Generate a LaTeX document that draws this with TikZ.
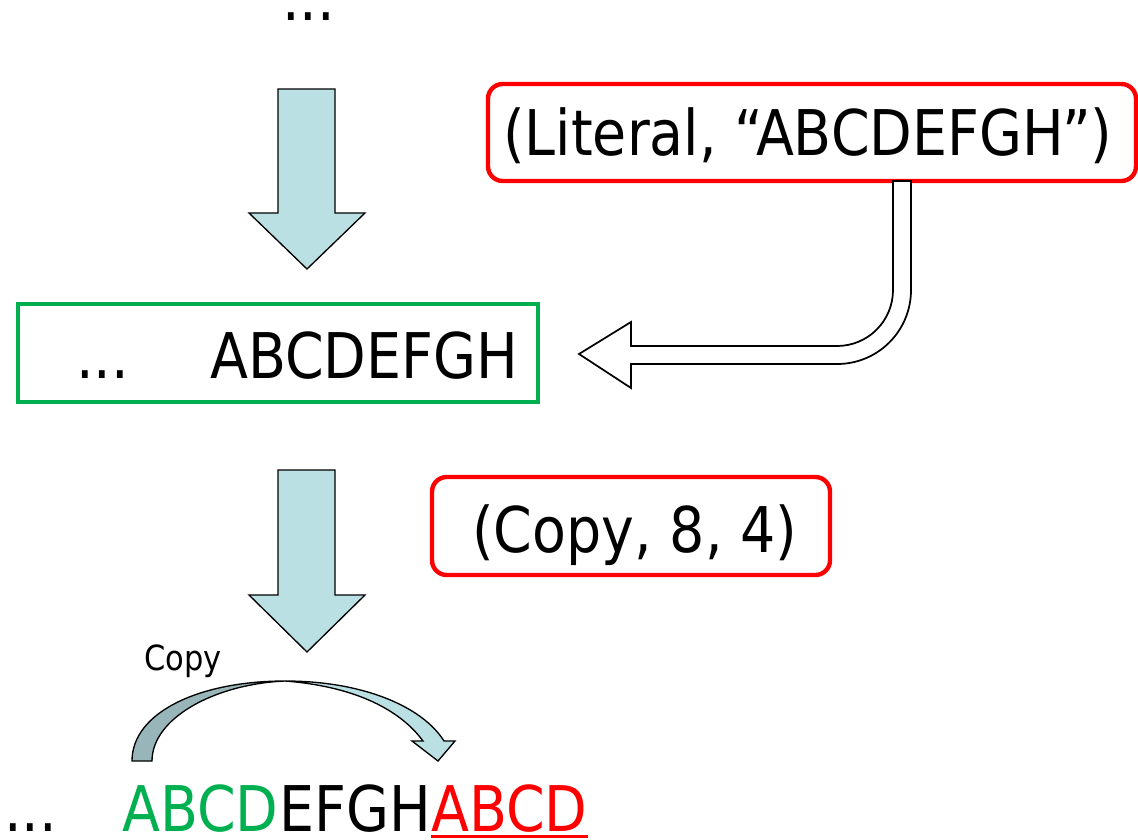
\documentclass[tikz,border=0pt]{standalone}
\usepackage{fontspec}
\setmainfont{DejaVu Sans}[FakeStretch=0.88]
\definecolor{ablue}{HTML}{BBE0E3}
\definecolor{adark}{HTML}{98B6B9}
\definecolor{agreen}{HTML}{00B050}
\definecolor{ared}{HTML}{FF0000}
\begin{document}
\begin{tikzpicture}[x=0.75pt,y=-0.75pt,
  big/.style={font=\fontsize{47.25}{56}\selectfont, inner sep=0pt, anchor=base west},
  small/.style={font=\fontsize{26}{30}\selectfont, inner sep=0pt, anchor=base west},
  blockarrow/.style={fill=ablue, draw=black, line width=1pt, line join=miter},
  hollowarrow/.style={fill=white, draw=black, line width=1.3pt, line join=miter},
  redbox/.style={draw=ared, line width=3.3pt, rounded corners=11pt},
  greenbox/.style={draw=agreen, line width=2.3pt}]
\useasboundingbox (0,0) rectangle (1138,839);

% top dots
\node[big] (topdots) at (282,20) {...};

% down arrow 1
\draw[blockarrow] (278,89) -- (335,89) -- (335,213) -- (365,213) -- (307,269)
  -- (249,213) -- (278,213) -- cycle;

% literal box
\draw[redbox] (488,84) rectangle (1136,181);
\node[big] (lit) at (503,155) {(Literal, “ABCDEFGH”)};

% hollow bent arrow
\draw[hollowarrow] (893,181) -- (893,290)
  .. controls (893,321) and (868,346) .. (837,346)
  -- (631,346) -- (631,322) -- (579,354) -- (631,388) -- (631,364) -- (837,364)
  .. controls (878,364) and (911,331) .. (911,290)
  -- (911,181) -- cycle;

% green box
\draw[greenbox] (18,304) rectangle (538,402);
\node[big] (gdots) at (76,378) {...};
\node[big] (gtext) at (210,378) {ABCDEFGH};

% down arrow 2
\draw[blockarrow] (278,470) -- (335,470) -- (335,595) -- (365,595) -- (307,652)
  -- (249,595) -- (278,595) -- cycle;

% copy box
\draw[redbox] (432,477) rectangle (830,575);
\node[big] (cp) at (472,552) {(Copy, 8, 4)};

% copy label
\node[small] (copylbl) at (144,670) {Copy};

% curved arrow
\draw[fill=adark, draw=black, line width=1pt] (132,761)
  .. controls (132,712) and (200,681) .. (285,681)
  .. controls (215,684) and (152,718) .. (152,761) -- cycle;
\draw[fill=ablue, draw=black, line width=1pt, line join=miter] (285,681)
  .. controls (362,681) and (422,706) .. (444,741)
  -- (455,741) -- (438,761) -- (412,741) -- (423,741)
  .. controls (398,707) and (350,686) .. (285,681) -- cycle;

% bottom text
\node[big] (bdots) at (4,831) {...};
\node[big, text=agreen] (b1) at (122,831) {ABCD};
\node[big, anchor=base west] (b2) at (b1.base east) {EFGH};
\node[big, text=ared, anchor=base west] (b3) at (b2.base east) {ABCD};
\draw[ared, line width=2pt] ([yshift=-4pt]b3.base west) -- ([yshift=-4pt]b3.base east);
\end{tikzpicture}
\end{document}
